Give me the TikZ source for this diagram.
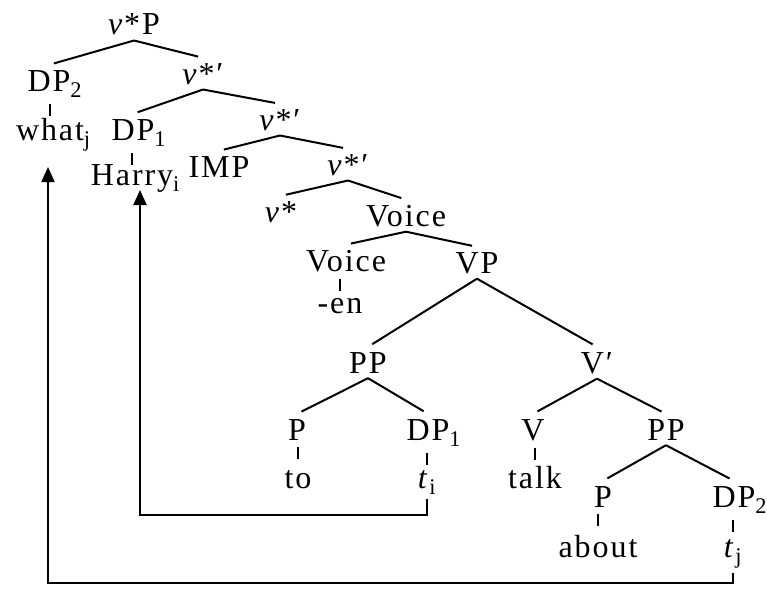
\documentclass[tikz,border=0pt]{standalone}
\usepackage{fontspec}
\setmainfont{Liberation Serif}[LetterSpace=6]
\usetikzlibrary{arrows.meta,calc}

\begin{document}
\begin{tikzpicture}[x=1pt, y=-1pt, font=\fontsize{32}{34}\selectfont,
  lab/.style={anchor=base, inner xsep=0pt, inner ysep=5pt},
  branch/.style={line width=2pt, shorten >=5pt},
  tick/.style={line width=2pt},
  move/.style={line width=2pt, -{Triangle[length=15pt,width=13pt]}}]
\useasboundingbox (0,0) rectangle (767,594);
% ---------------- upper part: v*P down to Voice
\node[lab] (vP) at (134,35) {\textit{v}*P};
\node[lab] (dpa) at (49,91) {DP\rlap{\textsubscript{2}}};
\node[lab] (vba) at (203,84) {\textit{v}*′};
\node[lab] (what) at (50,140) {what\rlap{\textsubscript{j}}};
\node[lab] (dpb) at (133,140) {DP\rlap{\textsubscript{1}}};
\node[lab] (vbb) at (280,130) {\textit{v}*′};
\node[lab] (harry) at (132,185) {Harry\rlap{\textsubscript{i}}};
\node[lab] (imp) at (219,177) {IMP};
\node[lab] (vbc) at (348,175) {\textit{v}*′};
\node[lab] (vhead) at (281,222) {\textit{v}*};
\node[lab] (voicebar) at (406,226) {Voice};
\node[lab] (voicehead) at (346,271) {Voice};
\node[lab] (vp) at (477,273) {VP};
\node[lab] (en) at (340,313) {-en};
% ---------------- VP: PP and V'
\node[lab] (ppa) at (368,373) {PP};
\node[lab] (vbar) at (597,373) {V′};
\node[lab] (pa) at (297,440) {P};
\node[lab] (dpc) at (428,440) {DP\rlap{\textsubscript{1}}};
\node[lab] (vhd) at (533,440) {V};
\node[lab] (ppb) at (666,440) {PP};
\node[lab] (to) at (298,488) {to};
\node[lab] (ti) at (427,488) {\textit{t}\textsubscript{i}};
\node[lab] (talk) at (535,488) {talk};
\node[lab] (pb) at (603,507) {P};
\node[lab] (dpd) at (734,507) {DP\rlap{\textsubscript{2}}};
\node[lab] (about) at (598,557) {about};
\node[lab] (tj) at (733,557) {\textit{t}\textsubscript{j}};
% ---------------- branches and ticks
\foreach \p/\c in {vP/dpa, vP/vba, vba/dpb, vba/vbb, vbb/imp, vbb/vbc, vbc/vhead, vbc/voicebar,
                   voicebar/voicehead, voicebar/vp, vp/ppa, vp/vbar, ppa/pa, ppa/dpc,
                   vbar/vhd, vbar/ppb, ppb/pb, ppb/dpd}
  \draw[branch] (\p.south) -- (\c.north);
\foreach \p/\c in {dpa/what, dpb/harry, voicehead/en, pa/to, dpc/ti, vhd/talk, pb/about, dpd/tj}
  \draw[tick] ($(\p.south -| \c.north)+(0,2)$) -- ++(0,12);
% ---------------- movement
\coordinate (lowa) at (140,515);
\coordinate (tipa) at (140,190);
\draw[move] (ti.south) |- (lowa) -- (tipa);
\coordinate (lowb) at (48,583);
\coordinate (tipb) at (48,167);
\draw[move] (tj.south) |- (lowb) -- (tipb);
\end{tikzpicture}
\end{document}
